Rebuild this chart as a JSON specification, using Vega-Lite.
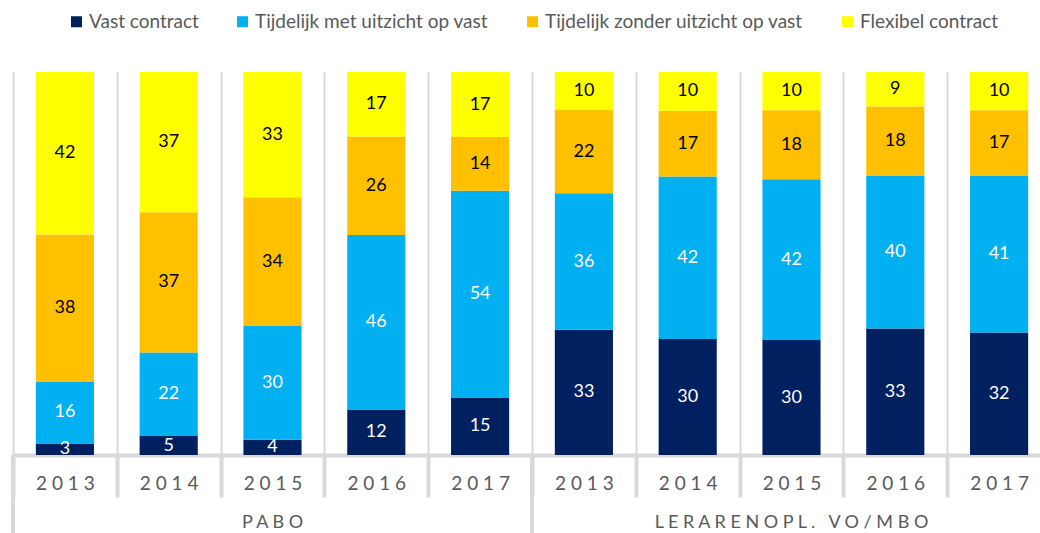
{
  "$schema": "https://vega.github.io/schema/vega-lite/v6.json",
  "autosize": {"type": "none"},
  "width": 1027,
  "height": 383,
  "padding": {"left": 13, "top": 72, "right": 0, "bottom": 78},
  "config": {"view": {"stroke": null}, "font": "Lato"},
  "datasets": {
    "contracten": [
      {"kolom": "PABO 2013", "type": "Vast contract", "nr": 1, "waarde": 3},
      {"kolom": "PABO 2013", "type": "Tijdelijk met uitzicht op vast", "nr": 2, "waarde": 16},
      {"kolom": "PABO 2013", "type": "Tijdelijk zonder uitzicht op vast", "nr": 3, "waarde": 38},
      {"kolom": "PABO 2013", "type": "Flexibel contract", "nr": 4, "waarde": 42},
      {"kolom": "PABO 2014", "type": "Vast contract", "nr": 1, "waarde": 5},
      {"kolom": "PABO 2014", "type": "Tijdelijk met uitzicht op vast", "nr": 2, "waarde": 22},
      {"kolom": "PABO 2014", "type": "Tijdelijk zonder uitzicht op vast", "nr": 3, "waarde": 37},
      {"kolom": "PABO 2014", "type": "Flexibel contract", "nr": 4, "waarde": 37},
      {"kolom": "PABO 2015", "type": "Vast contract", "nr": 1, "waarde": 4},
      {"kolom": "PABO 2015", "type": "Tijdelijk met uitzicht op vast", "nr": 2, "waarde": 30},
      {"kolom": "PABO 2015", "type": "Tijdelijk zonder uitzicht op vast", "nr": 3, "waarde": 34},
      {"kolom": "PABO 2015", "type": "Flexibel contract", "nr": 4, "waarde": 33},
      {"kolom": "PABO 2016", "type": "Vast contract", "nr": 1, "waarde": 12},
      {"kolom": "PABO 2016", "type": "Tijdelijk met uitzicht op vast", "nr": 2, "waarde": 46},
      {"kolom": "PABO 2016", "type": "Tijdelijk zonder uitzicht op vast", "nr": 3, "waarde": 26},
      {"kolom": "PABO 2016", "type": "Flexibel contract", "nr": 4, "waarde": 17},
      {"kolom": "PABO 2017", "type": "Vast contract", "nr": 1, "waarde": 15},
      {"kolom": "PABO 2017", "type": "Tijdelijk met uitzicht op vast", "nr": 2, "waarde": 54},
      {"kolom": "PABO 2017", "type": "Tijdelijk zonder uitzicht op vast", "nr": 3, "waarde": 14},
      {"kolom": "PABO 2017", "type": "Flexibel contract", "nr": 4, "waarde": 17},
      {"kolom": "VO 2013", "type": "Vast contract", "nr": 1, "waarde": 33},
      {"kolom": "VO 2013", "type": "Tijdelijk met uitzicht op vast", "nr": 2, "waarde": 36},
      {"kolom": "VO 2013", "type": "Tijdelijk zonder uitzicht op vast", "nr": 3, "waarde": 22},
      {"kolom": "VO 2013", "type": "Flexibel contract", "nr": 4, "waarde": 10},
      {"kolom": "VO 2014", "type": "Vast contract", "nr": 1, "waarde": 30},
      {"kolom": "VO 2014", "type": "Tijdelijk met uitzicht op vast", "nr": 2, "waarde": 42},
      {"kolom": "VO 2014", "type": "Tijdelijk zonder uitzicht op vast", "nr": 3, "waarde": 17},
      {"kolom": "VO 2014", "type": "Flexibel contract", "nr": 4, "waarde": 10},
      {"kolom": "VO 2015", "type": "Vast contract", "nr": 1, "waarde": 30},
      {"kolom": "VO 2015", "type": "Tijdelijk met uitzicht op vast", "nr": 2, "waarde": 42},
      {"kolom": "VO 2015", "type": "Tijdelijk zonder uitzicht op vast", "nr": 3, "waarde": 18},
      {"kolom": "VO 2015", "type": "Flexibel contract", "nr": 4, "waarde": 10},
      {"kolom": "VO 2016", "type": "Vast contract", "nr": 1, "waarde": 33},
      {"kolom": "VO 2016", "type": "Tijdelijk met uitzicht op vast", "nr": 2, "waarde": 40},
      {"kolom": "VO 2016", "type": "Tijdelijk zonder uitzicht op vast", "nr": 3, "waarde": 18},
      {"kolom": "VO 2016", "type": "Flexibel contract", "nr": 4, "waarde": 9},
      {"kolom": "VO 2017", "type": "Vast contract", "nr": 1, "waarde": 32},
      {"kolom": "VO 2017", "type": "Tijdelijk met uitzicht op vast", "nr": 2, "waarde": 41},
      {"kolom": "VO 2017", "type": "Tijdelijk zonder uitzicht op vast", "nr": 3, "waarde": 17},
      {"kolom": "VO 2017", "type": "Flexibel contract", "nr": 4, "waarde": 10}
    ],
    "groepen": [
      {"start": "PABO 2013", "midden": "PABO 2015", "groep": "PABO"},
      {"start": "VO 2013", "midden": "VO 2015", "groep": "LERARENOPL. VO/MBO"}
    ]
  },
  "layer": [
    {
      "data": {"name": "contracten"},
      "mark": {"type": "bar", "width": {"band": 0.56}},
      "encoding": {
        "x": {
          "field": "kolom", "type": "nominal", "sort": null,
          "scale": {"range": [0, 1038], "paddingInner": 0, "paddingOuter": 0},
          "axis": {
            "orient": "bottom", "title": null, "tickBand": "extent",
            "grid": true, "gridColor": "#d9d9d9", "gridWidth": 2,
            "domainColor": "#d9d9d9", "domainWidth": 4,
            "tickColor": "#d9d9d9", "tickWidth": 4, "tickSize": 42,
            "labelPadding": -23, "labelAngle": 0, "labelBaseline": "top",
            "labelExpr": "isString(datum.label) ? join(split(slice(datum.label, -4), ''), ' ') : ''",
            "labelFontSize": 19, "labelColor": "#595959", "labelFont": "Lato"
          }
        },
        "y": {"field": "waarde", "type": "quantitative", "stack": "normalize", "scale": {"domain": [0, 1]}, "axis": null},
        "order": {"field": "nr", "type": "quantitative"},
        "color": {
          "field": "type", "type": "nominal",
          "scale": {
            "domain": ["Vast contract", "Tijdelijk met uitzicht op vast", "Tijdelijk zonder uitzicht op vast", "Flexibel contract"],
            "range": ["#002060", "#00b0f0", "#ffc000", "#ffff00"]
          },
          "legend": {
            "orient": "none", "legendX": 54, "legendY": -60, "direction": "horizontal",
            "title": null, "symbolType": "square", "symbolSize": 121, "symbolStrokeWidth": 0,
            "labelFontSize": 19, "labelColor": "#595959", "labelFont": "Lato", "labelOffset": 3,
            "labelLimit": 400, "columnPadding": 34, "padding": 0
          }
        }
      }
    },
    {
      "data": {"name": "contracten"},
      "mark": {"type": "text", "fontSize": 18, "font": "Lato"},
      "encoding": {
        "x": {"field": "kolom", "type": "nominal", "sort": null},
        "y": {"field": "waarde", "type": "quantitative", "stack": "normalize", "bandPosition": 0.5},
        "order": {"field": "nr", "type": "quantitative"},
        "text": {"field": "waarde", "type": "quantitative"},
        "color": {"condition": {"test": "datum.nr <= 2", "value": "#ffffff"}, "value": "#000000"}
      }
    },
    {
      "data": {"name": "groepen"},
      "mark": {"type": "rule", "color": "#d9d9d9", "strokeWidth": 4},
      "encoding": {
        "x": {"field": "start", "type": "nominal", "sort": null, "bandPosition": 0},
        "y": {"datum": 0, "type": "quantitative"},
        "y2": {"datum": -0.21}
      }
    },
    {
      "data": {"name": "groepen"},
      "mark": {"type": "text", "fontSize": 18, "font": "Lato", "color": "#595959", "baseline": "middle",
               "text": {"expr": "join(split(replace(datum.groep, ' ', '\u00a0'), ''), ' ')"}},
      "encoding": {
        "x": {"field": "midden", "type": "nominal", "sort": null},
        "y": {"datum": -0.177, "type": "quantitative"}
      }
    }
  ]
}
